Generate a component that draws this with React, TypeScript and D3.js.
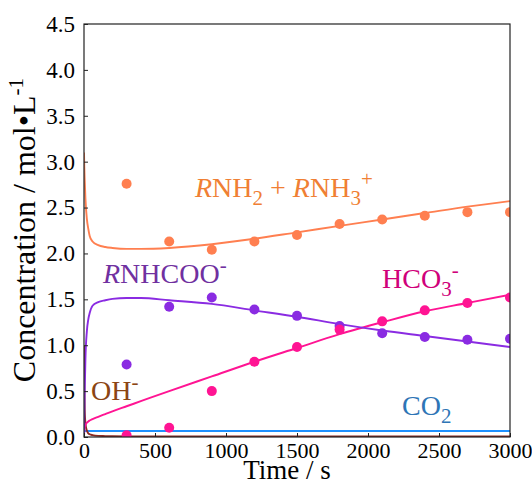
import { useEffect, useRef } from 'react';
import * as d3 from 'd3';

// model curve time grid (s)
const modelTime = [0, 2, 5, 10, 20, 30, 40, 60, 100, 150, 200, 300, 400, 600, 900, 1200, 1500, 1800, 2100, 2400, 2700, 3000];
const amineModel = [3.1, 2.95, 2.8, 2.6, 2.38, 2.27, 2.19, 2.13, 2.09, 2.07, 2.06, 2.05, 2.05, 2.06, 2.1, 2.16, 2.23, 2.3, 2.37, 2.44, 2.51, 2.57];
const carbamateModel = [0, 0.25, 0.5, 0.85, 1.15, 1.28, 1.35, 1.43, 1.47, 1.49, 1.505, 1.515, 1.515, 1.49, 1.45, 1.38, 1.31, 1.23, 1.16, 1.1, 1.04, 0.98];
const bicarbModel = [0, 0.06, 0.1, 0.13, 0.155, 0.17, 0.18, 0.195, 0.22, 0.25, 0.28, 0.335, 0.39, 0.5, 0.66, 0.82, 0.97, 1.12, 1.25, 1.37, 1.46, 1.55];
const hydroxideModel = [1.0, 0.6, 0.3, 0.15, 0.07, 0.04, 0.03, 0.02, 0.012, 0.01, 0.008, 0.006, 0.005, 0.005, 0.005, 0.005, 0.005, 0.005, 0.005, 0.005, 0.005, 0.005];
const co2Model = [0.065, 0.065, 0.065, 0.065, 0.065, 0.065, 0.065, 0.065, 0.065, 0.065, 0.065, 0.065, 0.065, 0.065, 0.065, 0.065, 0.065, 0.065, 0.065, 0.065, 0.065, 0.065];

// measured points
const sampleTime = [300, 600, 900, 1200, 1500, 1800, 2100, 2400, 2700, 3000];
const amineMeasured = [2.76, 2.13, 2.04, 2.13, 2.2, 2.32, 2.37, 2.41, 2.45, 2.45];
const carbamateMeasured = [0.79, 1.42, 1.52, 1.39, 1.32, 1.21, 1.13, 1.09, 1.06, 1.07];
const bicarbMeasured = [0.02, 0.1, 0.5, 0.82, 0.98, 1.17, 1.26, 1.38, 1.46, 1.52];

const xTicks = [0, 500, 1000, 1500, 2000, 2500, 3000];
const yTicks = [0, 0.5, 1.0, 1.5, 2.0, 2.5, 3.0, 3.5, 4.0, 4.5];

const width = 532;
const height = 484;

export default function App() {
  const svgRef = useRef<SVGSVGElement>(null);

  useEffect(() => {
    if (!svgRef.current) return;
    const svg = d3.select(svgRef.current);
    svg.selectAll('*').remove();

    const margin = { top: 24, right: 22, bottom: 47, left: 84 };
    const innerWidth = width - margin.left - margin.right;
    const innerHeight = height - margin.top - margin.bottom;
    const font = '"Liberation Serif", "Times New Roman", serif';

    const g = svg.append('g').attr('transform', `translate(${margin.left},${margin.top})`);

    const x = d3.scaleLinear().domain([0, 3000]).range([0, innerWidth]);
    const y = d3.scaleLinear().domain([0, 4.5]).range([innerHeight, 0]);

    const line = d3.line<[number, number]>()
      .x(d => x(d[0]))
      .y(d => y(d[1]))
      .curve(d3.curveMonotoneX);

    const clip = svg.append('clipPath').attr('id', 'plot-clip');
    clip.append('rect').attr('width', innerWidth).attr('height', innerHeight);

    const plot = g.append('g').attr('clip-path', 'url(#plot-clip)');

    // model curves
    const series = [
      { values: co2Model, color: '#1e90ff' },
      { values: hydroxideModel, color: '#8b2a22' },
      { values: bicarbModel, color: '#ff1493' },
      { values: carbamateModel, color: '#8a2be2' },
      { values: amineModel, color: '#ff7f50' },
    ];
    series.forEach(s => {
      plot.append('path')
        .datum(modelTime.map((t, i) => [t, s.values[i]] as [number, number]))
        .attr('fill', 'none')
        .attr('stroke', s.color)
        .attr('stroke-width', 1.9)
        .attr('d', line);
    });

    // experimental points
    const points = [
      { values: amineMeasured, color: '#ff7f50' },
      { values: carbamateMeasured, color: '#8a2be2' },
      { values: bicarbMeasured, color: '#ff1493' },
    ];
    points.forEach(p => {
      plot.selectAll(null)
        .data(sampleTime.map((t, i) => [t, p.values[i]]))
        .join('circle')
        .attr('cx', d => x(d[0]))
        .attr('cy', d => y(d[1]))
        .attr('r', 5)
        .attr('fill', p.color);
    });

    // axes with inward ticks
    const xAxis = g.append('g')
      .attr('transform', `translate(0,${innerHeight})`)
      .call(d3.axisBottom(x).tickValues(xTicks).tickSize(-4).tickPadding(5).tickFormat(d3.format('d')));
    xAxis.attr('font-family', null).attr('font-size', null);
    xAxis.select('.domain').remove();
    xAxis.selectAll('text')
      .style('font-family', font)
      .style('font-size', '22px')
      .attr('fill', '#000');

    const yAxis = g.append('g')
      .call(d3.axisLeft(y).tickValues(yTicks).tickSize(-4).tickPadding(9).tickFormat(d3.format('.1f')));
    yAxis.attr('font-family', null).attr('font-size', null);
    yAxis.select('.domain').remove();
    yAxis.selectAll('text')
      .style('font-family', font)
      .style('font-size', '23px')
      .attr('fill', '#000');
    svg.selectAll('.tick line').attr('stroke', '#222');

    // frame
    g.append('rect')
      .attr('width', innerWidth)
      .attr('height', innerHeight)
      .attr('fill', 'none')
      .attr('stroke', '#222')
      .attr('stroke-width', 1.2);

    // axis titles
    svg.append('text')
      .attr('x', 287)
      .attr('y', 479)
      .attr('text-anchor', 'middle')
      .style('font-family', font)
      .style('font-size', '27px')
      .attr('fill', '#000')
      .text('Time / s');

    const yTitle = svg.append('text')
      .attr('transform', 'translate(35,78) rotate(-90)')
      .attr('text-anchor', 'end')
      .style('font-family', font)
      .style('font-size', '32px')
      .attr('fill', '#000');
    yTitle.append('tspan').text('Concentration / mol\u2022L');
    yTitle.append('tspan').attr('dy', -12).style('font-size', '21px').text('-1');

    // series labels
    const label = (px: number, py: number, color: string) => g.append('text')
      .attr('x', px - margin.left)
      .attr('y', py - margin.top)
      .style('font-family', font)
      .style('font-size', '28px')
      .attr('fill', color);

    const amineLabel = label(195, 197, '#f07f34');
    amineLabel.append('tspan').attr('font-style', 'italic').text('R');
    amineLabel.append('tspan').text('NH');
    amineLabel.append('tspan').attr('dy', 8).style('font-size', '21px').text('2');
    amineLabel.append('tspan').attr('dy', -8).text(' + ');
    amineLabel.append('tspan').attr('font-style', 'italic').text('R');
    amineLabel.append('tspan').text('NH');
    amineLabel.append('tspan').attr('dy', 8).style('font-size', '21px').text('3');
    amineLabel.append('tspan').attr('dy', -19).style('font-size', '21px').text('+');

    const carbLabel = label(103, 283, '#7030a0');
    carbLabel.append('tspan').attr('font-style', 'italic').text('R');
    carbLabel.append('tspan').text('NHCOO');
    carbLabel.append('tspan').attr('dy', -11).style('font-size', '21px').text('-');

    const bicarbLabel = label(382, 288, '#d0007a');
    bicarbLabel.append('tspan').text('HCO');
    bicarbLabel.append('tspan').attr('dy', 8).style('font-size', '21px').text('3');
    bicarbLabel.append('tspan').attr('dy', -19).style('font-size', '21px').text('-');

    const ohLabel = label(91, 400, '#8b4513');
    ohLabel.append('tspan').text('OH');
    ohLabel.append('tspan').attr('dy', -11).style('font-size', '21px').text('-');

    const co2Label = label(402, 415, '#2e75b6');
    co2Label.append('tspan').text('CO');
    co2Label.append('tspan').attr('dy', 8).style('font-size', '21px').text('2');
  }, []);

  return (
    <svg
      ref={svgRef}
      width={width}
      height={height}
      style={{ position: 'absolute', left: 0, top: 0, background: '#fff' }}
    />
  );
}
